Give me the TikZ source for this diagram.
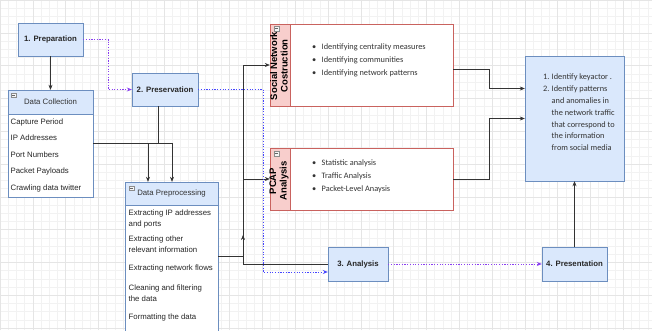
\documentclass[tikz,border=0pt]{standalone}
\usepackage{fontspec}
\setmainfont{Liberation Sans}
\newfontfamily\notefont{Carlito}
\usetikzlibrary{arrows.meta, positioning}
\definecolor{fillblue}{HTML}{DAE8FC}
\definecolor{lineblue}{HTML}{6C8EBF}
\definecolor{fillpink}{HTML}{F8CECC}
\definecolor{linered}{HTML}{C9625E}
\definecolor{dotpurple}{HTML}{8A3FF0}
\definecolor{dotblue}{HTML}{4747FF}
\definecolor{inkgray}{HTML}{333333}
\newcommand\bul{\makebox[9.5pt][l]{\textbullet}}
\newcommand\num[1]{\makebox[8.5pt][l]{#1}}

\tikzset{
  stage/.style={draw=lineblue, fill=fillblue, inner sep=0pt, text=black!85,
    font=\fontsize{7.8}{9.5}\selectfont\bfseries},
  listhead/.style={draw=lineblue, fill=fillblue, inner sep=0pt, text=inkgray,
    font=\fontsize{7.8}{9.5}\selectfont},
  listbody/.style={draw=lineblue, fill=white, inner sep=0pt},
  item/.style={inner sep=0pt, text=black!85, align=left,
    font=\fontsize{7.8}{11.5}\selectfont},
  lane/.style={draw=linered, fill=white, inner sep=0pt},
  lanetitle/.style={inner sep=0pt, align=center, text=black,
    font=\fontsize{9.5}{10.5}\selectfont\bfseries},
  note/.style={inner sep=0pt, align=left, text=inkgray,
    font=\notefont\fontsize{8.3}{13}\selectfont},
  flow/.style={draw=black!80, line width=0.6pt, -{Stealth[length=5pt,width=4pt]}},
  dotflow/.style={line width=0.8pt, dash pattern=on 1.2pt off 1.5pt,
    -{Stealth[length=5pt,width=4pt]}}
}

\begin{document}
\begin{tikzpicture}[x=1pt, y=-1pt]
  \useasboundingbox (0,0) rectangle (652,330);
  % background grid
  \draw[black!5, line width=0.4pt, step=8.2pt] (0,0) grid (652,330);
  \draw[black!10, line width=0.4pt, step=32.8pt] (0,0) grid (652,330);

  % stages
  \node[stage, minimum width=65pt, minimum height=33pt] (prep) at (50.5,39.5) {1. Preparation};
  \node[stage, minimum width=66pt, minimum height=33pt] (pres) at (165,89.5) {2. Preservation};
  \node[stage, minimum width=60pt, minimum height=34pt] (analysis) at (358,264) {3. Analysis};
  \node[stage, minimum width=65pt, minimum height=34pt] (present) at (574.5,264) {4. Presentation};
  \node[stage, minimum width=99pt, minimum height=125pt] (findings) at (574.5,118.5) {};
  \node[note, anchor=north west, font=\notefont\fontsize{8.3}{11.9}\selectfont] (findtext) at (543,73.5)
    {\num{1.}Identify keyactor .\\ \num{2.}Identify patterns\\ \hspace*{8.5pt}and anomalies in\\
     \hspace*{8.5pt}the network traffic\\ \hspace*{8.5pt}that correspond to\\
     \hspace*{8.5pt}the information\\ \hspace*{8.5pt}from social media};

  % data collection list
  \node[listhead, minimum width=85pt, minimum height=24pt] (collect) at (50.5,102) {Data Collection};
  \node[listbody, anchor=north, minimum width=85pt, minimum height=83pt] (collectlist) at (collect.south) {};
  \foreach \t [count=\i from 0] in {Capture Period, IP Addresses, Port Numbers, Packet Payloads, Crawling data twitter}
    \node[item, anchor=west, text height=5.7pt, text depth=1.6pt] (dc\i) at (10.5,122+\i*16.5) {\t};

  % data preprocessing list
  \node[listhead, minimum width=93pt, minimum height=23pt] (preproc) at (171.5,193.5) {Data Preprocessing};
  \node[listbody, anchor=north, minimum width=93pt, minimum height=135pt] (preproclist) at (preproc.south) {};
  \foreach \t/\y [count=\i] in {{Extracting IP addresses\\and ports}/213, {Extracting other\\relevant information}/239,
      {Extracting network flows}/268, {Cleaning and filtering\\the data}/288, {Formatting the data}/317}
    \node[item, anchor=north west] (dp\i) at (128.5,\y-3.5) {\t};

  % swimlanes
  \node[lane, minimum width=183pt, minimum height=82pt] (social) at (361.5,65) {};
  \draw[linered, fill=fillpink] (social.north west) rectangle ([xshift=20pt]social.south west);
  \node[lanetitle, rotate=90] (sntitle) at (279,66) {Social Network\\Costruction};
  \node[note, anchor=north west] (snlist) at (312,43.5)
    {\bul Identifying centrality measures\\ \bul Identifying communities\\ \bul Identifying network patterns};

  \node[lane, minimum width=183pt, minimum height=62pt] (pcap) at (361.5,179) {};
  \draw[linered, fill=fillpink] (pcap.north west) rectangle ([xshift=20pt]pcap.south west);
  \node[lanetitle, rotate=90] (pctitle) at (279,181) {PCAP\\Analysis};
  \node[note, anchor=north west] (pclist) at (312,159.5)
    {\bul Statistic analysis\\ \bul Traffic Analysis\\ \bul Packet-Level Anaysis};

  % collapse icons
  \foreach \ix/\iy in {13.5/95, 131.5/188, 276.5/28.5, 276.5/153.5}{
    \draw[black!45, fill=black!4, line width=0.4pt] (\ix-2.3,\iy-2.3) rectangle (\ix+2.3,\iy+2.3);
    \draw[black!60, line width=0.5pt] (\ix-1.3,\iy) -- (\ix+1.3,\iy);
  }

  % connectors
  \coordinate (jp) at (158,143);
  \coordinate (ja) at (148,143);
  \coordinate (jb) at (172,143);
  \coordinate (tk) at (243,256);
  \draw[flow] (prep) -- (collect);
  \draw[dotflow, dotpurple] (prep.east) -- ++(25,0) |- (pres.west);
  \draw[draw=black!80, line width=0.6pt] (jp |- pres.south) -- (jp);
  \draw[draw=black!80, line width=0.6pt] (collectlist.east |- jp) -- (jb);
  \draw[flow] (ja) -- (ja |- preproc.north);
  \draw[flow] (jb) -- (jb |- preproc.north);
  \draw[draw=black!80, line width=0.6pt] (preproclist.east |- tk) -- (tk);
  \draw[flow] (tk) -- ++(0,-21);
  \draw[flow] (analysis.west) -- (tk |- analysis.west) |- (social.west);
  \draw[flow] (tk |- pcap.west) -- (pcap.west);
  \draw[dotflow, dotblue] (pres.east) -- (263,89.5) |- ([yshift=-8pt]analysis.west);
  \draw[dotflow, dotpurple] (analysis) -- (present);
  \draw[flow] (present) -- (findings);
  \draw[flow] ([yshift=-4pt]social.east) -- ++(36,0) |- ([yshift=30pt]findings.west);
  \draw[flow] (pcap.east) -- ++(36,0) |- (findings.west);
\end{tikzpicture}
\end{document}
